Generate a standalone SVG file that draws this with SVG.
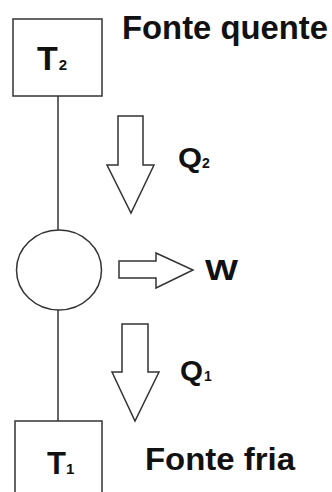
<svg xmlns="http://www.w3.org/2000/svg" width="332" height="492" viewBox="0 0 332 492">
<style>
.shape{fill:#fff;stroke:#333;stroke-width:1.5}
.line{fill:none;stroke:#333;stroke-width:1.5}
.t{font-family:"Liberation Sans",Arial,sans-serif;font-weight:bold;fill:#111}
</style>
<rect width="332" height="492" fill="#fff"/>
<g id="connectors">
<line class="line" x1="58" y1="96" x2="58" y2="230"/>
<line class="line" x1="58" y1="310" x2="58" y2="421"/>
</g>
<g id="hot">
<rect class="shape" x="13" y="19" width="89" height="77"/>
<text class="t" x="37" y="70" font-size="34">T<tspan font-size="15" dx="1">2</tspan></text>
<text class="t" x="122" y="39" font-size="33" textLength="206" lengthAdjust="spacingAndGlyphs">Fonte quente</text>
</g>
<g id="engine">
<ellipse class="shape" cx="59" cy="270" rx="42.5" ry="40"/>
</g>
<g id="cold">
<rect class="shape" x="15" y="421" width="87" height="80"/>
<text class="t" x="47" y="474" font-size="31">T<tspan font-size="15" dx="0">1</tspan></text>
<text class="t" x="145" y="470" font-size="31" textLength="150" lengthAdjust="spacingAndGlyphs">Fonte fria</text>
</g>
<g id="q2">
<path class="shape" d="M118,116 H143 V165 H154 L131,213 L107,165 H118 Z"/>
<text class="t" x="178" y="167" font-size="28" textLength="24" lengthAdjust="spacingAndGlyphs">Q</text>
<text class="t" x="202" y="168" font-size="14">2</text>
</g>
<g id="w">
<path class="shape" d="M119,261 H156 V253 L193,270 L156,288 V278 H119 Z"/>
<text class="t" x="205" y="280" font-size="29" textLength="33" lengthAdjust="spacingAndGlyphs">W</text>
</g>
<g id="q1">
<path class="shape" d="M122,324 H148 V372 H159 L135,421 L112,372 H122 Z"/>
<text class="t" x="180" y="380" font-size="28" textLength="23" lengthAdjust="spacingAndGlyphs">Q</text>
<text class="t" x="204" y="381" font-size="14">1</text>
</g>
</svg>
